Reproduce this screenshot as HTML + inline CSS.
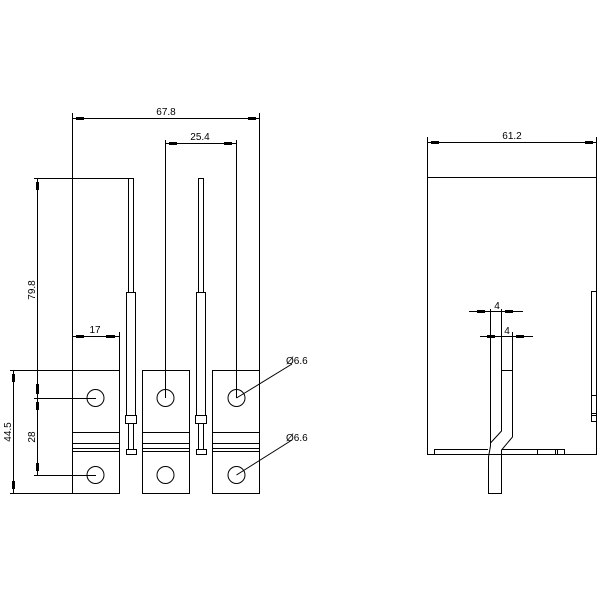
<!DOCTYPE html><html><head><style>body{margin:0;background:#fff}svg{display:block}</style></head><body>
<svg width="600" height="600" viewBox="0 0 600 600" xmlns="http://www.w3.org/2000/svg" font-family="Liberation Sans, sans-serif" font-size="10">
<rect width="600" height="600" fill="#fff"/>
<g stroke="#000" stroke-width="1" fill="none">
<!-- 67.8 -->
<line x1="72.5" y1="113" x2="72.5" y2="493"/><line x1="259.5" y1="113" x2="259.5" y2="493"/>
<line x1="72.5" y1="118.5" x2="259.5" y2="118.5"/>
<!-- 25.4 -->
<line x1="165.5" y1="140" x2="165.5" y2="398"/><line x1="236.5" y1="140" x2="236.5" y2="398"/>
<line x1="165.5" y1="143.5" x2="236.5" y2="143.5"/>
<!-- 79.8 -->
<line x1="34" y1="178.5" x2="129" y2="178.5"/>
<line x1="37.5" y1="178" x2="37.5" y2="475"/>
<line x1="34" y1="398.5" x2="96" y2="398.5"/>
<line x1="34" y1="475.5" x2="96" y2="475.5"/>
<!-- 44.5 -->
<line x1="10" y1="370.5" x2="72" y2="370.5"/>
<line x1="10" y1="493.5" x2="72" y2="493.5"/>
<line x1="13.5" y1="370" x2="13.5" y2="493"/>
<!-- 17 -->
<line x1="72.5" y1="336.5" x2="119" y2="336.5"/>
<line x1="119.5" y1="332" x2="119.5" y2="370"/>
<!-- plates -->
<rect x="72.5" y="370.5" width="47" height="123"/>
<rect x="142.5" y="370.5" width="47" height="123"/>
<rect x="212.5" y="370.5" width="47" height="123"/>
<path d="M72.5 432.5H119.5M72.5 443.5H119.5M72.5 448.5H119.5M72.5 451.5H119.5"/>
<path d="M142.5 432.5H189.5M142.5 443.5H189.5M142.5 448.5H189.5M142.5 451.5H189.5"/>
<path d="M212.5 432.5H259.5M212.5 443.5H259.5M212.5 448.5H259.5M212.5 451.5H259.5"/>
<circle cx="95.5" cy="398" r="8.5"/><circle cx="165.5" cy="398" r="8.5"/><circle cx="236.5" cy="398" r="8.5"/>
<circle cx="95.5" cy="475" r="8.5"/><circle cx="165.5" cy="475" r="8.5"/><circle cx="236.5" cy="475" r="8.5"/>
<line x1="236.5" y1="398" x2="292" y2="364"/>
<line x1="236.5" y1="475" x2="292" y2="440"/>
<!-- rods -->
<rect x="128.5" y="178.5" width="5" height="114"/>
<rect x="126.5" y="292.5" width="9" height="123"/>
<rect x="125.5" y="415.5" width="11" height="8"/>
<rect x="128.5" y="423.5" width="5" height="26"/>
<rect x="126.5" y="449.5" width="10" height="5"/>
<rect x="198.5" y="178.5" width="5" height="114"/>
<rect x="196.5" y="292.5" width="9" height="123"/>
<rect x="195.5" y="415.5" width="11" height="8"/>
<rect x="198.5" y="423.5" width="5" height="26"/>
<rect x="196.5" y="449.5" width="10" height="5"/>
<!-- right view -->
<rect x="427.5" y="177.5" width="169" height="277"/>
<line x1="427.5" y1="137" x2="427.5" y2="177"/><line x1="596.5" y1="137" x2="596.5" y2="177"/>
<line x1="427.5" y1="142.5" x2="596.5" y2="142.5"/>
<rect x="591.5" y="291.5" width="5" height="130"/>
<path d="M591.5 395.5H596.5M591.5 413.5H596.5M591.5 415.5H596.5"/>
<path d="M434.5 454V449.5H488M502 449.5H564.5V454M537.5 449.5V454M555.5 449.5V454M557.5 449.5V454"/>
<path d="M490.5 309V446L488.5 457V493.5H501.5V450L512.5 437V332"/>
<path d="M501.5 309V431L490.5 443"/>
<path d="M501.5 370.5H512.5"/>
<line x1="469" y1="311.5" x2="523" y2="311.5"/>
<line x1="480" y1="336.5" x2="533" y2="336.5"/>
</g>
<g stroke="#000" stroke-width="3">
<line x1="76" y1="118.5" x2="84" y2="118.5"/><line x1="248" y1="118.5" x2="256" y2="118.5"/>
<line x1="169" y1="143.5" x2="177" y2="143.5"/><line x1="224" y1="143.5" x2="232" y2="143.5"/>
<line x1="76" y1="336.5" x2="84" y2="336.5"/><line x1="106" y1="336.5" x2="115" y2="336.5"/>
<line x1="431" y1="142.5" x2="439" y2="142.5"/><line x1="585" y1="142.5" x2="593" y2="142.5"/>
<line x1="37.5" y1="182" x2="37.5" y2="190"/><line x1="37.5" y1="384" x2="37.5" y2="394"/>
<line x1="37.5" y1="402" x2="37.5" y2="410"/><line x1="37.5" y1="463" x2="37.5" y2="471"/>
<line x1="13.5" y1="374" x2="13.5" y2="382"/><line x1="13.5" y1="481" x2="13.5" y2="489"/>
<line x1="477" y1="311.5" x2="485" y2="311.5"/><line x1="505" y1="311.5" x2="513" y2="311.5"/>
<line x1="487" y1="336.5" x2="495" y2="336.5"/><line x1="516" y1="336.5" x2="524" y2="336.5"/>
</g>
<g fill="#000">
<text x="166" y="115" text-anchor="middle">67.8</text>
<text x="200" y="140" text-anchor="middle">25.4</text>
<text x="95" y="333" text-anchor="middle">17</text>
<text x="512" y="139" text-anchor="middle">61.2</text>
<text x="497" y="309" text-anchor="middle">4</text>
<text x="507" y="334" text-anchor="middle">4</text>
<text x="286" y="364">Ø6.6</text>
<text x="286" y="441">Ø6.6</text>
<text transform="translate(35,290) rotate(-90)" text-anchor="middle">79.8</text>
<text transform="translate(35,437) rotate(-90)" text-anchor="middle">28</text>
<text transform="translate(11,432) rotate(-90)" text-anchor="middle">44.5</text>
</g>
</svg>
</body></html>
